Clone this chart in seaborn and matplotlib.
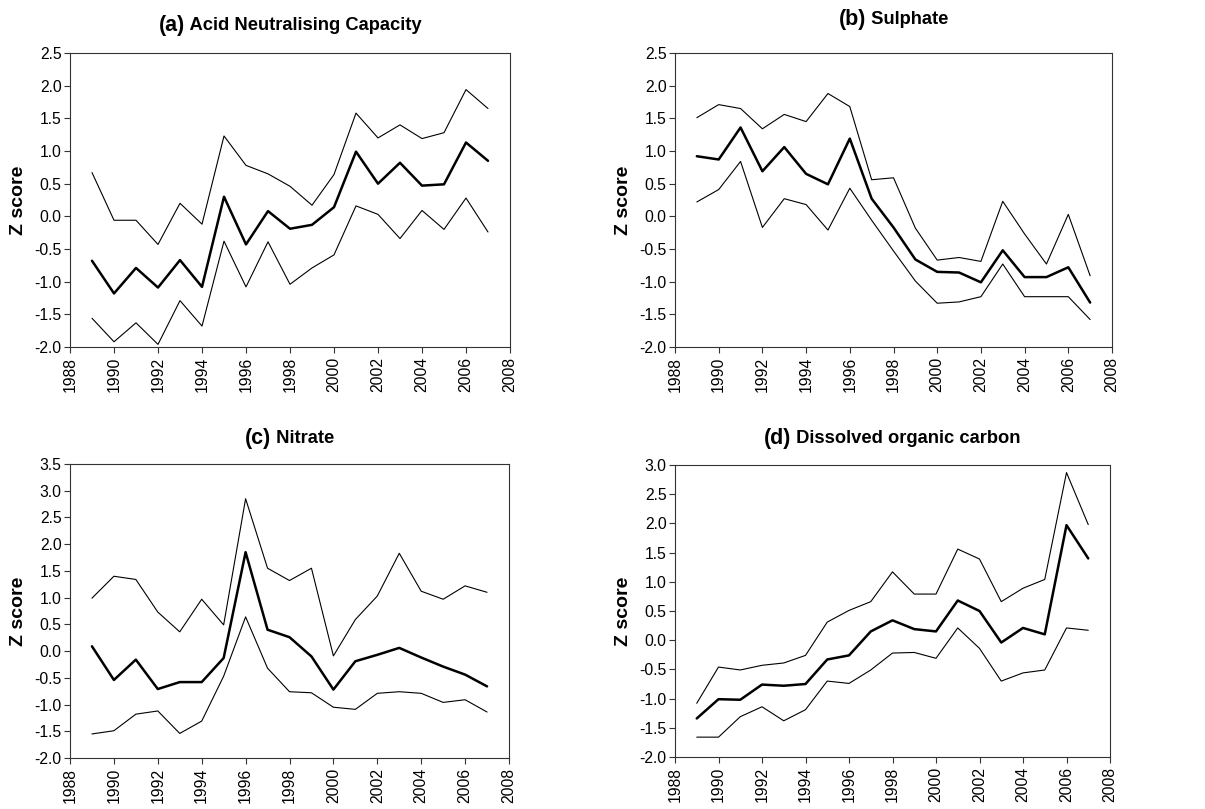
import numpy as np
import pandas as pd
import matplotlib
matplotlib.use("Agg")
import matplotlib.pyplot as plt
import seaborn as sns
from matplotlib import font_manager
from matplotlib.ticker import FormatStrFormatter

years = list(range(1989, 2008))

anc_mean = [-0.68, -1.18, -0.79, -1.09, -0.67, -1.08, 0.30, -0.43, 0.08, -0.19, -0.13, 0.14, 0.99, 0.50, 0.82, 0.47, 0.49, 1.13, 0.85]
anc_upper = [0.67, -0.06, -0.06, -0.43, 0.20, -0.12, 1.23, 0.78, 0.65, 0.46, 0.17, 0.64, 1.58, 1.20, 1.40, 1.19, 1.28, 1.94, 1.65]
anc_lower = [-1.56, -1.92, -1.63, -1.96, -1.29, -1.68, -0.38, -1.08, -0.39, -1.04, -0.79, -0.59, 0.16, 0.03, -0.34, 0.09, -0.20, 0.28, -0.24]

so4_mean = [0.92, 0.87, 1.36, 0.69, 1.06, 0.65, 0.49, 1.19, 0.27, -0.17, -0.66, -0.85, -0.86, -1.01, -0.52, -0.93, -0.93, -0.78, -1.32]
so4_upper = [1.51, 1.71, 1.65, 1.34, 1.56, 1.45, 1.88, 1.68, 0.56, 0.59, -0.18, -0.67, -0.63, -0.69, 0.23, -0.27, -0.73, 0.03, -0.91]
so4_lower = [0.22, 0.41, 0.84, -0.17, 0.27, 0.18, -0.21, 0.43, -0.06, -0.53, -0.99, -1.33, -1.31, -1.23, -0.73, -1.23, -1.23, -1.23, -1.58]

no3_mean = [0.09, -0.54, -0.16, -0.71, -0.58, -0.58, -0.13, 1.85, 0.40, 0.26, -0.10, -0.72, -0.19, -0.07, 0.06, -0.12, -0.29, -0.44, -0.66]
no3_upper = [0.99, 1.40, 1.34, 0.73, 0.36, 0.97, 0.49, 2.85, 1.55, 1.32, 1.55, -0.09, 0.59, 1.03, 1.83, 1.12, 0.97, 1.22, 1.10]
no3_lower = [-1.55, -1.49, -1.18, -1.12, -1.54, -1.31, -0.47, 0.64, -0.32, -0.76, -0.78, -1.05, -1.09, -0.79, -0.76, -0.79, -0.96, -0.91, -1.14]

doc_mean = [-1.34, -1.01, -1.02, -0.76, -0.78, -0.75, -0.33, -0.26, 0.15, 0.34, 0.19, 0.15, 0.68, 0.50, -0.04, 0.21, 0.10, 1.97, 1.40]
doc_upper = [-1.08, -0.46, -0.51, -0.43, -0.39, -0.26, 0.31, 0.51, 0.66, 1.17, 0.79, 0.79, 1.56, 1.39, 0.66, 0.89, 1.04, 2.87, 1.98]
doc_lower = [-1.66, -1.66, -1.31, -1.14, -1.38, -1.19, -0.70, -0.74, -0.51, -0.22, -0.21, -0.31, 0.21, -0.14, -0.70, -0.56, -0.51, 0.21, 0.17]

panel_letters = ["(a)", "(b)", "(c)", "(d)"]
panel_names = ["Acid Neutralising Capacity", "Sulphate", "Nitrate", "Dissolved organic carbon"]
y_limits = [(-2.0, 2.5), (-2.0, 2.5), (-2.0, 3.5), (-2.0, 3.0)]
x_ticks = list(range(1988, 2009, 2))

sns.set_style("ticks")
avail = {f.name for f in font_manager.fontManager.ttflist}
base = "Liberation Sans" if "Liberation Sans" in avail else "DejaVu Sans"
narrow = "Liberation Sans Narrow" if "Liberation Sans Narrow" in avail else base
plt.rcParams["font.family"] = [base, "DejaVu Sans"]
plt.rcParams["axes.unicode_minus"] = False
for k in ["text.color", "axes.labelcolor", "xtick.color", "ytick.color", "axes.edgecolor"]:
    plt.rcParams[k] = "black"

fig = plt.figure(figsize=(12.05, 8.09), dpi=100)
W, H = 1205, 809
boxes = [(70, 53, 510, 347), (675, 53, 1112, 347), (70, 464, 509, 758), (675, 465, 1110, 757)]
title_y = [25, 20, 438, 438]

series = [(anc_mean, anc_upper, anc_lower), (so4_mean, so4_upper, so4_lower),
          (no3_mean, no3_upper, no3_lower), (doc_mean, doc_upper, doc_lower)]

axes = []
for i, (l, t, r, b) in enumerate(boxes):
    ax = fig.add_axes([l / W, 1 - b / H, (r - l) / W, (b - t) / H])
    m, u, lo = series[i]
    df = pd.DataFrame({"year": years, "mean": m, "upper": u, "lower": lo})
    sns.lineplot(data=df, x="year", y="upper", ax=ax, color="black", lw=0.8)
    sns.lineplot(data=df, x="year", y="lower", ax=ax, color="black", lw=0.8)
    sns.lineplot(data=df, x="year", y="mean", ax=ax, color="black", lw=1.8)
    ax.set_xlim(1988, 2008)
    ax.set_xticks(x_ticks)
    ax.set_xticklabels([str(v) for v in x_ticks], rotation=90, fontsize=11.3)
    y0, y1 = y_limits[i]
    ax.set_ylim(y0, y1)
    ax.set_yticks(np.arange(y0, y1 + 0.01, 0.5))
    ax.yaxis.set_major_formatter(FormatStrFormatter("%.1f"))
    ax.tick_params(axis="y", labelsize=11.3, length=4, width=0.8, color="#333333", pad=2)
    ax.tick_params(axis="x", length=4, width=0.8, color="#333333", pad=3)
    for s in ax.spines.values():
        s.set_visible(True)
        s.set_color("#333333")
        s.set_linewidth(0.8)
    ax.set_xlabel("")
    ax.set_ylabel("Z score", fontsize=14, fontweight="bold", labelpad=5)
    axes.append(ax)

fig.canvas.draw()
renderer = fig.canvas.get_renderer()
for i, ax in enumerate(axes):
    cx = ax.get_position().x0 + ax.get_position().width / 2
    yy = 1 - title_y[i] / H
    t1 = fig.text(0, yy, panel_letters[i], fontsize=15.5, fontweight="bold", va="center", ha="left")
    t2 = fig.text(0, yy, " " + panel_names[i], fontsize=13.2, fontweight="bold", va="center", ha="left",
                  family=[narrow, base])
    w1 = t1.get_window_extent(renderer).width / W
    w2 = t2.get_window_extent(renderer).width / W
    start = cx - (w1 + w2) / 2
    t1.set_x(start)
    t2.set_x(start + w1)

fig.savefig("out.png", dpi=100)
